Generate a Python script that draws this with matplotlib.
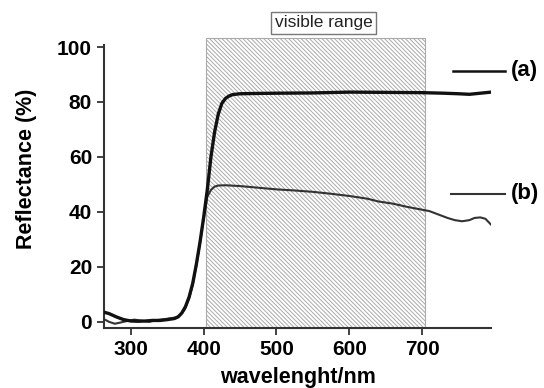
import matplotlib.pyplot as plt
from matplotlib.patches import Rectangle

plt.rcParams['font.family'] = ['Liberation Sans', 'DejaVu Sans']
plt.rcParams['hatch.color'] = '#b0b0b0'
plt.rcParams['hatch.linewidth'] = 0.7

# curve (a)
wl_a = [263, 270, 280, 290, 300, 310, 320, 330, 340, 350, 360, 365, 370, 375,
        380, 385, 390, 395, 400, 405, 410, 415, 420, 425, 430, 435, 440, 450,
        470, 500, 550, 600, 650, 700, 730, 750, 765, 780, 795]
refl_a = [3.5, 3.0, 1.8, 0.8, 0.3, 0.2, 0.3, 0.5, 0.5, 0.8, 1.2, 1.8, 3.2, 5.5,
          9, 14, 21, 29, 38, 48, 60, 69, 75.5, 79.5, 81.3, 82.2, 82.7, 83.0,
          83.1, 83.2, 83.3, 83.6, 83.5, 83.4, 83.2, 83.0, 82.8, 83.2, 83.6]

# curve (b)
wl_b = [263, 270, 278, 285, 295, 305, 315, 325, 335, 345, 355, 362, 368, 374,
        380, 385, 390, 395, 400, 405, 410, 415, 420, 430, 450, 475, 500, 525,
        550, 575, 600, 625, 640, 660, 680, 700, 710, 720, 735, 745, 755, 765,
        772, 780, 787, 795]
refl_b = [1.0, 0.0, -0.7, -0.3, 0.3, 0.8, 0.4, 0.0, 0.6, 0.9, 1.3, 1.6, 2.5, 4.5,
          8.5, 13.5, 20.5, 28.5, 37.5, 45.5, 48, 49.2, 49.6, 49.7, 49.4, 48.8,
          48.2, 47.8, 47.3, 46.6, 45.8, 44.8, 43.8, 43.0, 41.8, 40.8, 40.3, 39.3,
          37.8, 37.0, 36.6, 37.0, 37.8, 38.0, 37.5, 35.3]

vis_lo, vis_hi = 403, 704

fig = plt.figure(figsize=(5.44, 3.88), dpi=100)
ax = fig.add_axes([0.191, 0.155, 0.712, 0.728])
ax.set_xlim(263, 795)
ax.set_ylim(-2.2, 100.6)

# visible range hatched box
rect = Rectangle((vis_lo, -2.2), vis_hi - vis_lo, 105.5, facecolor='white',
                 edgecolor='#aaaaaa', hatch='\\' * 8, linewidth=0.8,
                 clip_on=False, zorder=0)
ax.add_patch(rect)

ax.plot(wl_b, refl_b, color='#333333', lw=1.5, zorder=3)
ax.plot(wl_a, refl_a, color='#111111', lw=2.4, zorder=4)

ax.text(565, 108.8, 'visible range', ha='center', va='center',
        fontsize=12.5, color='#222222',
        bbox=dict(boxstyle='square,pad=0.22', facecolor='white', edgecolor='#777777', lw=1.0))

# legend lines
ax.plot([742, 814], [91.3, 91.3], color='#111111', lw=1.8, clip_on=False)
ax.plot([740, 814], [46.6, 46.6], color='#333333', lw=1.5, clip_on=False)
ax.text(822, 91.3, '(a)', fontsize=16, fontweight='bold', va='center')
ax.text(822, 46.6, '(b)', fontsize=16, fontweight='bold', va='center')

ax.set_xticks([300, 400, 500, 600, 700])
ax.set_yticks([0, 20, 40, 60, 80, 100])
ax.tick_params(labelsize=15, width=1.3, length=5, color='#333333')
for lab in ax.get_xticklabels() + ax.get_yticklabels():
    lab.set_fontweight('bold')
for s in ['top', 'right']:
    ax.spines[s].set_visible(False)
for s in ['left', 'bottom']:
    ax.spines[s].set_linewidth(1.5)
    ax.spines[s].set_color('#333333')

ax.set_xlabel('wavelenght/nm', fontsize=15.5, fontweight='bold', labelpad=6)
ax.set_ylabel('Reflectance (%)', fontsize=15.5, fontweight='bold')
ax.yaxis.set_label_coords(-0.174, 0.564)

fig.savefig('out.png', dpi=100)
